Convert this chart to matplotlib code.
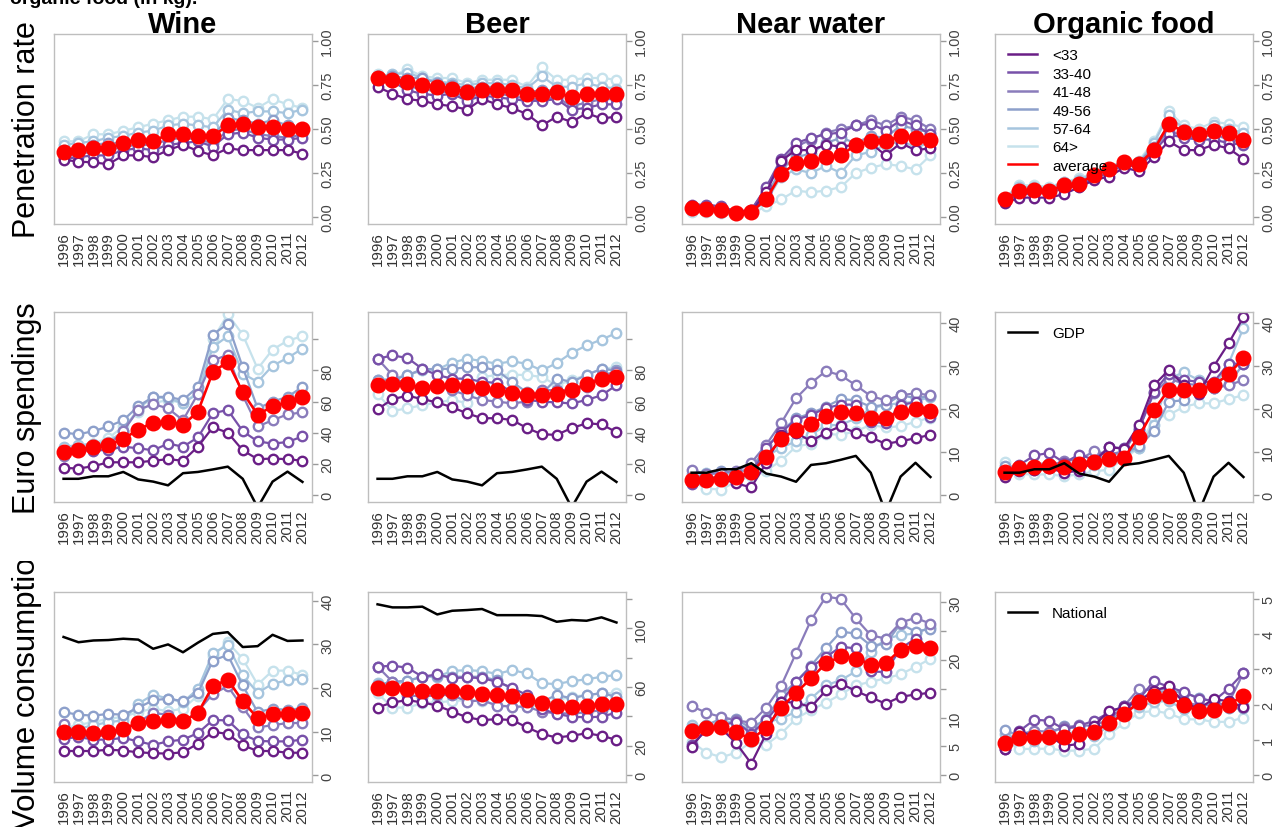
import matplotlib.pyplot as plt
from matplotlib.lines import Line2D
from matplotlib.transforms import Bbox, TransformedBbox

plt.rcParams['font.family'] = ['Liberation Sans', 'DejaVu Sans']

years = list(range(1996, 2013))
groups = ['<33', '33-40', '41-48', '49-56', '57-64', '64>']
group_colors = ['#6a1e86', '#7851a9', '#8a7cbb', '#8da0cb', '#a6c5de', '#c6e2ec']
products = ['Wine', 'Beer', 'Near water', 'Organic food']
measures = ['Penetration rate', 'Euro spendings', 'Volume consumption']

# ---- penetration rate (share of households buying) ----
wine_pen = [
    [0.325, 0.315, 0.31, 0.30, 0.35, 0.35, 0.34, 0.38, 0.41, 0.375, 0.35, 0.39, 0.38, 0.38, 0.38, 0.38, 0.36],
    [0.33, 0.34, 0.35, 0.35, 0.38, 0.39, 0.38, 0.41, 0.42, 0.43, 0.40, 0.47, 0.48, 0.45, 0.44, 0.44, 0.45],
    [0.34, 0.36, 0.37, 0.38, 0.40, 0.41, 0.41, 0.44, 0.45, 0.44, 0.42, 0.49, 0.50, 0.47, 0.46, 0.45, 0.47],
    [0.38, 0.38, 0.41, 0.42, 0.42, 0.45, 0.44, 0.46, 0.47, 0.47, 0.46, 0.56, 0.55, 0.53, 0.55, 0.52, 0.50],
    [0.41, 0.42, 0.43, 0.45, 0.46, 0.48, 0.49, 0.52, 0.53, 0.52, 0.51, 0.61, 0.59, 0.60, 0.60, 0.59, 0.61],
    [0.43, 0.43, 0.47, 0.47, 0.49, 0.51, 0.53, 0.55, 0.57, 0.57, 0.555, 0.67, 0.66, 0.62, 0.67, 0.64, 0.62],
]
wine_pen_avg = [0.37, 0.38, 0.39, 0.39, 0.42, 0.44, 0.43, 0.47, 0.47, 0.46, 0.46, 0.52, 0.53, 0.51, 0.51, 0.50, 0.50]

beer_pen = [
    [0.74, 0.70, 0.67, 0.66, 0.64, 0.63, 0.61, 0.67, 0.64, 0.62, 0.585, 0.52, 0.57, 0.54, 0.59, 0.56, 0.57],
    [0.77, 0.77, 0.72, 0.70, 0.69, 0.70, 0.66, 0.69, 0.68, 0.67, 0.66, 0.66, 0.67, 0.61, 0.62, 0.64, 0.64],
    [0.78, 0.79, 0.74, 0.73, 0.71, 0.71, 0.68, 0.70, 0.70, 0.69, 0.67, 0.67, 0.68, 0.63, 0.65, 0.67, 0.67],
    [0.80, 0.80, 0.79, 0.79, 0.76, 0.75, 0.73, 0.74, 0.74, 0.73, 0.71, 0.72, 0.72, 0.66, 0.70, 0.71, 0.71],
    [0.80, 0.81, 0.82, 0.79, 0.77, 0.76, 0.75, 0.76, 0.76, 0.75, 0.73, 0.80, 0.74, 0.74, 0.76, 0.74, 0.73],
    [0.81, 0.80, 0.84, 0.80, 0.79, 0.79, 0.76, 0.78, 0.78, 0.78, 0.74, 0.85, 0.78, 0.78, 0.79, 0.79, 0.78],
]
beer_pen_avg = [0.79, 0.78, 0.77, 0.75, 0.74, 0.73, 0.71, 0.72, 0.72, 0.72, 0.70, 0.70, 0.71, 0.68, 0.70, 0.70, 0.70]

water_pen = [
    [0.06, 0.05, 0.04, 0.03, 0.03, 0.14, 0.32, 0.38, 0.38, 0.41, 0.40, 0.41, 0.42, 0.35, 0.42, 0.38, 0.39],
    [0.07, 0.07, 0.06, 0.03, 0.04, 0.17, 0.33, 0.42, 0.45, 0.47, 0.48, 0.52, 0.53, 0.49, 0.55, 0.52, 0.47],
    [0.06, 0.06, 0.05, 0.02, 0.04, 0.16, 0.31, 0.40, 0.44, 0.48, 0.50, 0.52, 0.55, 0.52, 0.57, 0.55, 0.50],
    [0.05, 0.05, 0.03, 0.02, 0.03, 0.12, 0.27, 0.34, 0.36, 0.42, 0.45, 0.42, 0.46, 0.45, 0.52, 0.50, 0.48],
    [0.04, 0.04, 0.03, 0.02, 0.03, 0.09, 0.23, 0.27, 0.25, 0.29, 0.25, 0.35, 0.37, 0.41, 0.43, 0.40, 0.42],
    [0.03, 0.03, 0.02, 0.01, 0.02, 0.06, 0.10, 0.15, 0.14, 0.15, 0.17, 0.25, 0.28, 0.30, 0.29, 0.27, 0.35],
]
water_pen_avg = [0.05, 0.045, 0.04, 0.02, 0.03, 0.10, 0.245, 0.305, 0.32, 0.34, 0.35, 0.41, 0.43, 0.43, 0.46, 0.45, 0.44]

organic_pen = [
    [0.08, 0.11, 0.11, 0.11, 0.13, 0.17, 0.21, 0.23, 0.28, 0.26, 0.34, 0.43, 0.38, 0.38, 0.41, 0.39, 0.33],
    [0.09, 0.13, 0.13, 0.14, 0.16, 0.18, 0.22, 0.25, 0.30, 0.28, 0.37, 0.47, 0.45, 0.44, 0.44, 0.42, 0.41],
    [0.09, 0.14, 0.14, 0.14, 0.17, 0.19, 0.23, 0.26, 0.31, 0.30, 0.39, 0.49, 0.46, 0.45, 0.47, 0.44, 0.43],
    [0.10, 0.15, 0.15, 0.15, 0.18, 0.20, 0.24, 0.27, 0.32, 0.31, 0.40, 0.52, 0.49, 0.46, 0.50, 0.46, 0.45],
    [0.11, 0.17, 0.17, 0.16, 0.20, 0.21, 0.25, 0.28, 0.32, 0.31, 0.42, 0.58, 0.50, 0.48, 0.52, 0.50, 0.48],
    [0.11, 0.18, 0.18, 0.17, 0.20, 0.22, 0.25, 0.28, 0.32, 0.32, 0.43, 0.60, 0.52, 0.50, 0.54, 0.53, 0.51],
]
organic_pen_avg = [0.10, 0.15, 0.155, 0.15, 0.18, 0.19, 0.24, 0.27, 0.31, 0.30, 0.38, 0.53, 0.485, 0.47, 0.49, 0.475, 0.44]

# ---- euro spendings ----
wine_eur = [
    [17.4, 17, 18.5, 21, 21, 21, 22, 23, 22, 31, 43.5, 40, 28.7, 23, 23.4, 23, 22],
    [28.5, 28.5, 28.5, 29, 31, 30, 28.7, 33, 31, 37, 52.5, 54.6, 41, 34.4, 33, 34, 37.6],
    [25, 30, 30.6, 32, 41, 54.6, 58.4, 55.6, 48, 65, 86.4, 90, 64, 44, 48, 51.8, 53],
    [40, 39, 41, 44, 48, 57, 63, 63, 61, 69.5, 103, 110, 82, 55.6, 60, 63, 69.4],
    [31, 32, 33, 34, 41, 55.6, 63, 62, 59, 65, 95, 102, 78, 72.6, 83, 88, 94],
    [30, 31, 33, 36.5, 44, 53.5, 59, 61, 59, 66, 100, 116, 103, 81, 93.4, 99, 102],
]
wine_eur_avg = [27.6, 29, 31, 32, 36, 42, 46.5, 47, 45, 53.5, 79, 85.5, 66, 51.5, 57, 59.5, 63]

beer_eur = [
    [55, 61.6, 63.7, 61.6, 59.4, 56.3, 52.4, 49.3, 49.3, 48.2, 43, 39, 38.6, 43, 46, 45.4, 40.3],
    [87.5, 89.6, 88, 81, 77, 74.7, 74.7, 72.6, 72, 66, 61, 60, 59.4, 58.8, 61, 64, 70.5],
    [87.5, 77, 69.4, 68.4, 70.5, 67.3, 64, 61, 60, 58.8, 60, 67.3, 67.3, 67.3, 69.4, 77, 79],
    [74, 73.7, 77, 80.7, 81, 81, 82, 82, 80, 72.6, 66, 65, 74.7, 72.6, 77, 81, 80],
    [73.7, 74.7, 77, 80, 80.7, 85, 87.5, 86, 84.3, 85.8, 84.3, 80, 84.7, 91.3, 96, 99.8, 104],
    [65, 54, 55.6, 57.7, 59.4, 61, 59, 75.8, 77, 77.3, 77, 75.8, 70.5, 73.7, 77.3, 81, 82],
]
beer_eur_avg = [70.5, 71, 71, 69, 70, 70.5, 70, 68.4, 67.7, 65.8, 64, 64.5, 65, 67.7, 71, 74.3, 75.8]

water_eur = [
    [3.6, 3.8, 3.8, 2.7, 1.8, 7.5, 14, 14.5, 12.5, 14.5, 16, 14.4, 13.4, 11.9, 12.5, 13.2, 14],
    [2.5, 4, 4.2, 4, 4.8, 11, 14.6, 17.5, 18.6, 20.2, 21, 21, 17, 16.7, 21, 21.5, 18.2],
    [5.9, 4.8, 5.2, 5.5, 7.5, 11.7, 16.7, 22.5, 26, 28.8, 27.8, 25.5, 23, 22, 23.2, 23.6, 23.2],
    [4, 4.8, 5.5, 5.2, 6.3, 11, 14.8, 17.8, 19, 20.5, 22.3, 22, 20.5, 21, 23.2, 22.5, 23],
    [4.8, 5.2, 4.8, 5.2, 6.3, 9, 11, 12.5, 14, 16.2, 16.3, 17.8, 20, 21, 21.3, 21.7, 22.8],
    [3.2, 1.5, 1.3, 3.2, 4.4, 5.7, 8, 11.3, 11.9, 14.2, 14, 14.8, 16.3, 15.7, 16, 17, 18],
]
water_eur_avg = [3.6, 3.6, 3.8, 4.2, 5.3, 8.8, 13, 15.2, 16.5, 18.4, 19.2, 19, 18, 18, 19.4, 19.9, 19.6]

organic_eur = [
    [4.2, 5.5, 5.9, 6.3, 5.2, 5.7, 7.8, 11.1, 10.8, 16.3, 25.5, 29, 25.5, 23.4, 29.8, 35.2, 41.3],
    [4.8, 7, 9.2, 9.8, 7.5, 9.4, 8.2, 11.1, 10.9, 15.2, 24, 28.2, 26.7, 26.3, 26.2, 30.5, 30.5],
    [4.8, 6.3, 6.3, 6.7, 8, 8.2, 10.2, 9.4, 10.2, 15.5, 23.6, 27, 25.9, 25.5, 24.8, 25.5, 26.7],
    [6.7, 6.5, 7.1, 7.5, 7.1, 7.5, 8.2, 9.4, 9.8, 11.3, 14.8, 21.7, 22, 26.3, 24.8, 25.7, 30.5],
    [5.9, 5.9, 5.9, 6.3, 6.3, 6.7, 7.1, 8.2, 9.4, 10.9, 16.3, 27, 28.5, 26.7, 24.8, 30.5, 38.8],
    [7.8, 4.9, 4.8, 4.8, 4.4, 4.8, 5.5, 5.9, 8.6, 10.9, 17.8, 18.6, 20.5, 21.3, 21.3, 22.3, 23.2],
]
organic_eur_avg = [5.3, 6.2, 6.5, 6.7, 6.5, 7.3, 7.8, 8.4, 8.6, 13.6, 19.8, 24.4, 24.4, 24.5, 25.5, 28, 31.8]

# GDP growth line, drawn in every spending panel with a per-panel scale
gdp = [5.2, 5.2, 6.0, 6.0, 7.4, 5.0, 4.3, 3.1, 7.0, 7.4, 8.2, 9.1, 5.2, -4.0, 4.3, 7.5, 4.2]
gdp_scale = [2, 2, 1, 1]

# ---- volume consumption ----
wine_vol = [
    [5.6, 5.6, 5.6, 5.9, 5.7, 5.3, 5.1, 5, 5.3, 7.3, 10, 9.5, 6.9, 5.6, 5.6, 5.2, 5.2],
    [8.4, 8.8, 8.2, 8.2, 8.6, 7.8, 7, 7.8, 8.2, 9.7, 12.7, 12.6, 9.4, 7.9, 7.8, 7.8, 8.2],
    [11.8, 9.2, 8.9, 9.3, 10.3, 12.2, 14.3, 13.9, 12.2, 14.7, 18.7, 20.4, 15.6, 11, 11.5, 12, 12],
    [14.5, 13.9, 13.7, 14.1, 13.9, 15.5, 17.2, 17.6, 17, 18.9, 26.3, 27.6, 20.6, 14.5, 15.3, 15, 15.4],
    [11, 10.7, 11.5, 12.2, 12.6, 16.4, 18.5, 17.6, 16.8, 19.8, 28, 29.8, 23, 18.9, 21, 21.8, 22.1],
    [10.7, 11.6, 12.2, 13, 13.4, 14.5, 15.3, 14.7, 15.3, 18.3, 27.3, 30.5, 26.7, 20.8, 24, 24, 23],
]
wine_vol_avg = [10, 9.9, 9.8, 9.9, 10.7, 12, 12.4, 12.6, 12.4, 14.3, 20.5, 21.9, 17, 13.1, 14, 14.1, 14.3]
wine_national = [31.7, 30.5, 30.9, 31, 31.3, 31.1, 29, 30, 28.2, 30.4, 32.4, 32.8, 29.4, 29.6, 32.2, 30.8, 30.9]

beer_vol = [
    [46, 49.5, 51, 49.5, 47.3, 43.2, 39.3, 37.5, 38, 37.5, 32.5, 28, 25.5, 26.8, 28.4, 26.8, 23.9],
    [73.9, 74.5, 73.2, 67, 68.6, 66, 66.6, 66, 63.6, 59.5, 54.5, 45, 41.6, 39.8, 39.3, 39.8, 42.5],
    [73.9, 63.6, 54.5, 53.4, 54.5, 54.5, 50, 51, 47.3, 46.6, 46.6, 43.2, 42, 42, 42.7, 44.3, 45.5],
    [61.4, 63.6, 64.3, 67, 67.7, 67, 67, 67, 64.5, 58.6, 51, 50, 54.5, 52.3, 54.5, 55.7, 53.4],
    [62.5, 61.8, 64, 67, 67, 71, 71.5, 70.9, 68.9, 71.5, 69.3, 62.5, 62, 64, 65.2, 67, 68.2],
    [55.7, 46, 46, 48.9, 49.5, 50.5, 51, 50.5, 47.7, 46.6, 46.6, 47.7, 51, 53.4, 54.5, 55.7, 55.7],
]
beer_vol_avg = [59.5, 59, 58.4, 57.5, 57.5, 57.3, 56.4, 55.2, 54.5, 54, 51, 48.9, 47, 46.6, 47.3, 48.2, 48.2]
beer_national = [116.4, 114.3, 114.3, 114.8, 109.5, 112, 112.5, 113.2, 109, 109, 109, 108.4, 104.5, 105.7, 105.2, 107.5, 104]

water_vol = [
    [4.9, 8.1, 8.1, 5.5, 2, 7.2, 12.7, 12.6, 11.8, 14.7, 15.9, 14.6, 13.5, 12.4, 13.6, 14, 14.3],
    [5.2, 7.8, 8.7, 9.2, 7.2, 9.5, 12.7, 16.2, 18.8, 20.5, 22.3, 22, 18, 17.9, 22, 23.7, 22],
    [12, 10.8, 10.1, 9.5, 9.1, 11.7, 15.5, 21.2, 26.9, 31, 30.6, 27.2, 24.3, 23.7, 26.5, 27.3, 26.3],
    [8.1, 8.7, 9.8, 9.7, 8.1, 9.8, 13.9, 16.2, 19, 22.1, 24.9, 24.6, 22.5, 22.8, 26.3, 24.9, 25.4],
    [8.7, 8.1, 9.5, 9, 7.8, 9.2, 9.8, 11, 13.3, 15.6, 16.5, 18, 21.4, 23.7, 24.3, 24.6, 25.7],
    [5.8, 3.9, 3.1, 3.9, 5.8, 5.3, 7.2, 9.8, 11.3, 12.6, 14, 15.6, 16.2, 16.8, 17.5, 18.8, 20.2],
]
water_vol_avg = [7.6, 8.2, 8.3, 7.5, 6.2, 8.2, 11.7, 14.3, 16.8, 19.4, 20.6, 20.2, 19.2, 19.4, 21.8, 22.5, 22.1]

organic_vol = [
    [0.74, 1.23, 1.11, 1.11, 0.83, 0.88, 1.4, 1.82, 1.92, 2.1, 2.39, 2.53, 2.06, 1.89, 2.15, 2.1, 1.92],
    [0.74, 1.25, 1.57, 1.54, 1.3, 1.4, 1.54, 1.77, 1.96, 2.15, 2.67, 2.5, 2.36, 2.17, 2.1, 2.45, 2.9],
    [0.97, 1.16, 1.25, 1.23, 1.35, 1.41, 1.4, 1.58, 1.96, 2.45, 2.39, 2.48, 2.1, 1.96, 2.0, 2.04, 2.9],
    [1.28, 1.11, 1.07, 1.16, 1.4, 1.3, 1.25, 1.54, 1.82, 2.17, 2.34, 2.39, 2.34, 2.2, 2.08, 1.89, 1.89],
    [1.16, 1.02, 0.97, 1.04, 1.16, 1.25, 1.11, 1.4, 1.87, 1.92, 2.08, 2.1, 1.87, 1.92, 1.87, 1.96, 2.0],
    [0.97, 0.74, 0.74, 0.75, 0.69, 0.69, 0.75, 1.16, 1.47, 1.77, 1.82, 1.75, 1.58, 1.58, 1.51, 1.51, 1.63],
]
organic_vol_avg = [0.92, 1.04, 1.08, 1.09, 1.08, 1.16, 1.23, 1.47, 1.73, 2.06, 2.25, 2.25, 1.98, 1.82, 1.85, 2.0, 2.25]

# axis settings per row / column
ylims = [
    [(-0.04, 1.04)] * 4,
    [(-4.5, 117.5), (-4.5, 117.5), (-1.6, 42.5), (-1.6, 42.5)],
    [(-1.5, 42), (-4.8, 124.8), (-1.2, 31.8), (-0.2, 5.2)],
]
pen_ticks = [0, 0.25, 0.5, 0.75, 1.0]
yticks = [
    [(pen_ticks, ['%.2f' % t for t in pen_ticks])] * 4,
    [([0, 20, 40, 60, 80, 100], ['0', '20', '40', '60', '80', '']),
     ([0, 20, 40, 60, 80, 100], ['0', '20', '40', '60', '80', '']),
     ([0, 10, 20, 30, 40], ['0', '10', '20', '30', '40']),
     ([0, 10, 20, 30, 40], ['0', '10', '20', '30', '40'])],
    [([0, 10, 20, 30, 40], ['0', '10', '20', '30', '40']),
     ([0, 20, 40, 60, 80, 100, 120], ['0', '20', '', '60', '', '100', '']),
     ([0, 5, 10, 15, 20, 25, 30], ['0', '5', '10', '', '20', '', '30']),
     ([0, 1, 2, 3, 4, 5], ['0', '1', '2', '3', '4', '5'])],
]

panels = [
    [(wine_pen, wine_pen_avg), (beer_pen, beer_pen_avg), (water_pen, water_pen_avg), (organic_pen, organic_pen_avg)],
    [(wine_eur, wine_eur_avg), (beer_eur, beer_eur_avg), (water_eur, water_eur_avg), (organic_eur, organic_eur_avg)],
    [(wine_vol, wine_vol_avg), (beer_vol, beer_vol_avg), (water_vol, water_vol_avg), (organic_vol, organic_vol_avg)],
]
national = {0: wine_national, 1: beer_national}

W_PX, H_PX = 1276, 828
fig = plt.figure(figsize=(W_PX / 100, H_PX / 100), dpi=100)

col_left = [54, 368, 682, 995]
row_top = [35, 313, 593]
ax_w, ax_h = 258, 190
x = list(range(len(years)))
frame_col = '#bebebe'

for r in range(3):
    for c in range(4):
        ax = fig.add_axes([col_left[c] / W_PX, (H_PX - row_top[r] - ax_h) / H_PX,
                           ax_w / W_PX, ax_h / H_PX])
        grp, avg = panels[r][c]
        for vals, col in list(zip(grp, group_colors))[::-1]:
            ax.plot(x, vals, '-o', color=col, lw=1.6, ms=6.8, mfc='white', mew=1.7)
        ax.plot(x, avg, '-o', color='#ff0000', lw=1.9, ms=10.5, mfc='#ff0000', mec='#ff0000')
        if r == 1:
            ax.plot(x, [g * gdp_scale[c] for g in gdp], color='black', lw=1.8)
        if r == 2 and c in national:
            ax.plot(x, national[c], color='black', lw=1.8)

        ax.set_xlim(-0.64, 16.64)
        ax.set_ylim(*ylims[r][c])
        ax.set_xticks(x)
        ax.set_xticklabels([str(y) for y in years], rotation=90)
        ax.tick_params(axis='x', length=0, pad=5, labelsize=10.8, labelcolor='#333333')
        ticks, labels = yticks[r][c]
        ax.yaxis.tick_right()
        ax.set_yticks(ticks)
        ax.set_yticklabels(labels, rotation=90, va='center')
        ax.tick_params(axis='y', length=4, width=1, color='#9a9a9a', pad=2,
                       labelsize=10.5, labelcolor='#444444')
        for s in ax.spines.values():
            s.set_color(frame_col)
            s.set_linewidth(1)

        if r == 0:
            fig.text((col_left[c] + ax_w / 2) / W_PX, 1 - 33 / H_PX, products[c],
                     ha='center', va='baseline', fontsize=21, fontweight='bold')

        if c == 3:
            if r == 0:
                handles = [Line2D([], [], color=col, lw=1.8) for col in group_colors]
                handles.append(Line2D([], [], color='#ff0000', lw=1.8))
                names = groups + ['average']
            elif r == 1:
                handles, names = [Line2D([], [], color='black', lw=1.8)], ['GDP']
            else:
                handles, names = [Line2D([], [], color='black', lw=1.8)], ['National']
            ax.legend(handles, names, loc='upper left', bbox_to_anchor=(0.05, 0.925),
                      frameon=False, fontsize=11, handlelength=1.9, handletextpad=1.0,
                      labelspacing=0.29, borderpad=0, borderaxespad=0)

# row labels on the left
fig.text(35 / W_PX, 1 - 130 / H_PX, measures[0], rotation=90, rotation_mode='anchor',
         ha='center', va='baseline', fontsize=22)
fig.text(35 / W_PX, 1 - 408 / H_PX, measures[1], rotation=90, rotation_mode='anchor',
         ha='center', va='baseline', fontsize=22)
# the third label runs past the top of its row and is cut there
vol = fig.text(35 / W_PX, -2 / H_PX, measures[2], rotation=90, rotation_mode='anchor',
               ha='left', va='baseline', fontsize=22.5)
vol.set_clip_box(TransformedBbox(Bbox.from_extents(0, 0, 1, (H_PX - 562) / H_PX), fig.transFigure))
vol.set_clip_on(True)

# tail of the caption line above the figure
fig.text(10 / W_PX, 1 - 4 / H_PX, 'organic food (in kg).', ha='left', va='baseline',
         fontsize=14, fontweight='bold')

fig.savefig('out.png', dpi=100)
